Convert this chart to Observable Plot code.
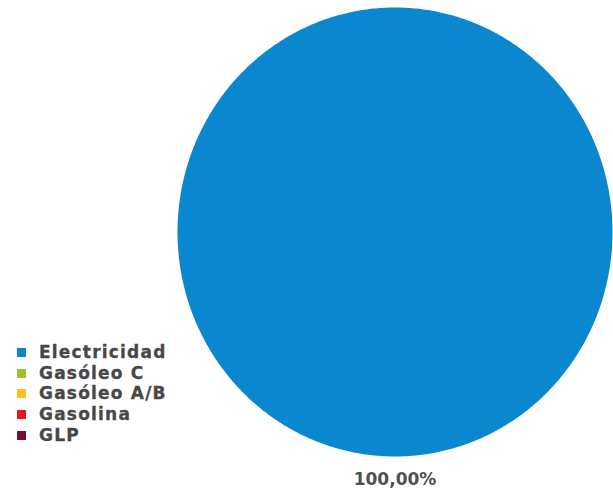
<!DOCTYPE html>
<html><head><meta charset="utf-8">
<script src="https://cdn.jsdelivr.net/npm/d3@7"></script>
<script src="https://cdn.jsdelivr.net/npm/@observablehq/plot@0.6"></script>
<style>
html,body{margin:0;padding:0;background:#fff;}
#wrap{position:relative;width:613px;height:490px;overflow:hidden;}
#legend{position:absolute;left:17px;top:342px;font-family:"DejaVu Sans",sans-serif;font-weight:700;font-size:17px;color:#474747;letter-spacing:1.2px;-webkit-text-stroke:0.3px #474747;}
#legend div{height:20.7px;line-height:20.7px;display:flex;align-items:center;}
#legend span.sw{display:inline-block;width:9px;height:9px;margin-right:13px;}
</style></head>
<body><div id="wrap"><div id="chart"></div><div id="legend"></div></div>
<script>
const categories = ["Electricidad", "Gasóleo C", "Gasóleo A/B", "Gasolina", "GLP"];
const values = [100, 0, 0, 0, 0];
const colors = ["#0a87cf", "#9cc42a", "#f7c51e", "#e9161c", "#7b0b2b"];

const data = categories.map((c, i) => ({category: c, value: values[i]}));
const total = d3.sum(values);
const arcs = d3.pie().sort(null).value(d => d.value)(data);

// polygon points of each slice in unit-circle coordinates
const pts = [];
arcs.forEach(a => {
  if (a.endAngle - a.startAngle <= 0) return;
  const n = Math.max(2, Math.ceil((a.endAngle - a.startAngle) / 0.01));
  const full = (a.endAngle - a.startAngle) >= 2 * Math.PI - 1e-9;
  if (!full) pts.push({k: a.data.category, x: 0, y: 0});
  for (let j = 0; j <= n; j++) {
    const t = a.startAngle + (a.endAngle - a.startAngle) * j / n;
    pts.push({k: a.data.category, x: Math.sin(t), y: Math.cos(t)});
  }
});
const labels = arcs.filter(a => a.value > 0).map(a => {
  const m = (a.startAngle + a.endAngle) / 2;
  return {x: Math.sin(m) * 1.1, y: Math.cos(m) * 1.1,
          text: (a.value / total * 100).toFixed(2).replace(".", ",") + "%"};
});

const plot = Plot.plot({
  width: 613, height: 490,
  margin: 0,
  x: {domain: [-1, 1], range: [177, 612], axis: null},
  y: {domain: [-1, 1], range: [456, 7], axis: null},
  color: {domain: categories, range: colors},
  marks: [
    Plot.line(pts, {x: "x", y: "y", z: "k", fill: "k", stroke: null, curve: "linear"}),
    Plot.text(labels, {x: "x", y: "y", text: "text", fontSize: 17, fontWeight: "bold",
      fill: "#505050", fontFamily: "DejaVu Sans", dy: 1,
      style: "letter-spacing:1px;-webkit-text-stroke:0.3px #505050"})
  ]
});
document.getElementById("chart").appendChild(plot);

const lg = document.getElementById("legend");
categories.forEach((c, i) => {
  const row = document.createElement("div");
  const sw = document.createElement("span");
  sw.className = "sw"; sw.style.background = colors[i];
  row.appendChild(sw);
  row.appendChild(document.createTextNode(c));
  lg.appendChild(row);
});
</script></body></html>
